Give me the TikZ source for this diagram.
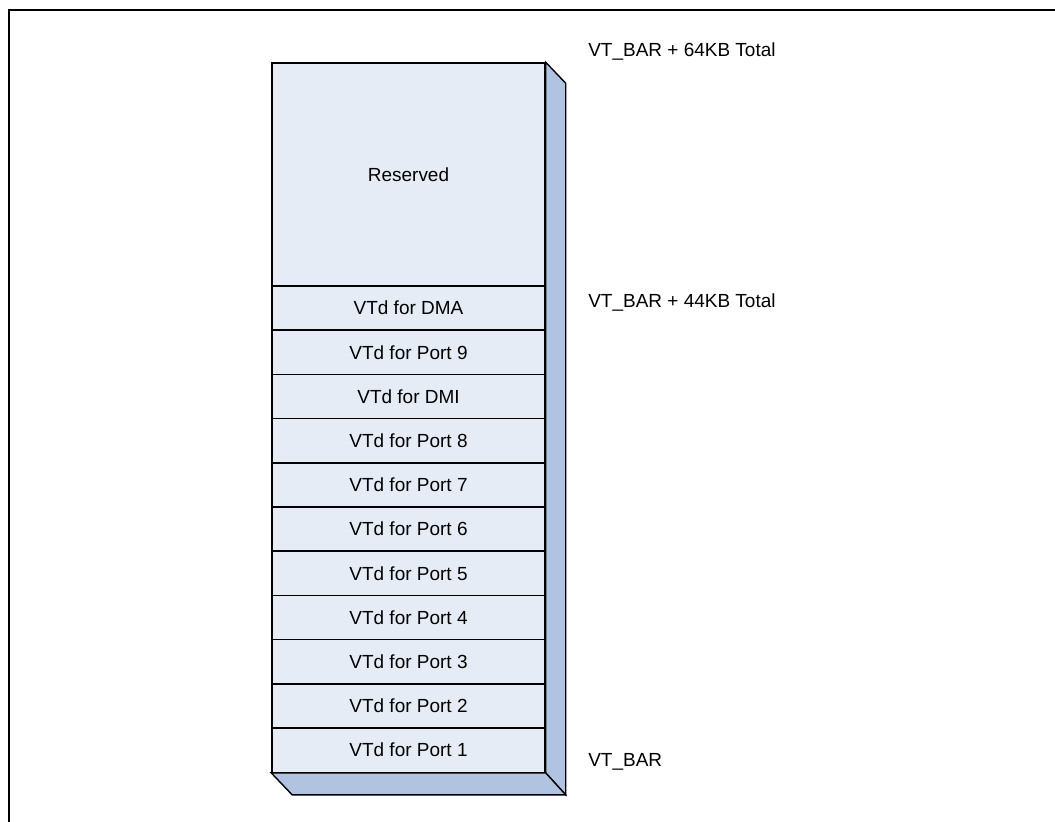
\documentclass[tikz,border=0pt]{standalone}
\usepackage{fontspec}
\setmainfont{Liberation Sans}
\usepackage{tikz}
\usetikzlibrary{calc}
\usepackage{xcolor}
\definecolor{cFront}{HTML}{E6ECF6}
\definecolor{cSide}{HTML}{B0C4E2}

\begin{document}
\begin{tikzpicture}[x=0.025cm, y=-0.025cm,
    region/.style={
        rectangle, draw=black, fill=cFront, line width=1pt,
        minimum width=6.825cm, minimum height=1.105cm, inner sep=0pt,
        font=\fontsize{13.5}{16}\selectfont, align=center, text=black
    },
    bigregion/.style={region, minimum height=5.575cm},
    face/.style={draw=black, fill=cSide, line width=1pt, line join=miter},
    addr/.style={anchor=west, inner sep=0pt, font=\fontsize{13.5}{16}\selectfont},
]
\useasboundingbox (0,0) rectangle (1055,822);

% Frame
\draw[line width=1.6pt] (9,822) -- (9,10) -- (1055,10);

% Reserved space
\node[bigregion] (resv) at (408.5,174.5) {Reserved};

% VTd register blocks
\node[region] (dma)   at (408.5,308.1) {VTd for DMA};
\node[region] (port9) at (408.5,352.3) {VTd for Port 9};
\node[region] (dmi)   at (408.5,396.5) {VTd for DMI};
\node[region] (port8) at (408.5,440.7) {VTd for Port 8};
\node[region] (port7) at (408.5,484.9) {VTd for Port 7};
\node[region] (port6) at (408.5,529.1) {VTd for Port 6};
\node[region] (port5) at (408.5,573.3) {VTd for Port 5};
\node[region] (port4) at (408.5,617.5) {VTd for Port 4};
\node[region] (port3) at (408.5,661.7) {VTd for Port 3};
\node[region] (port2) at (408.5,705.9) {VTd for Port 2};
\node[region] (port1) at (408.5,750.1) {VTd for Port 1};

% Depth faces
\draw[face] (resv.north east) -- ++(20,21) -- ($(port1.south east)+(20,22)$)
    -- (port1.south east) -- cycle;
\draw[face] (port1.south west) -- (port1.south east) -- ++(20,22)
    -- ($(port1.south west)+(21,22)$) -- cycle;

% Address labels
\node[addr] (top)  at (588,52)  {VT\_BAR + 64KB Total};
\node[addr] (mid)  at (588,303) {VT\_BAR + 44KB Total};
\node[addr] (base) at (588,762) {VT\_BAR};

\end{tikzpicture}
\end{document}
